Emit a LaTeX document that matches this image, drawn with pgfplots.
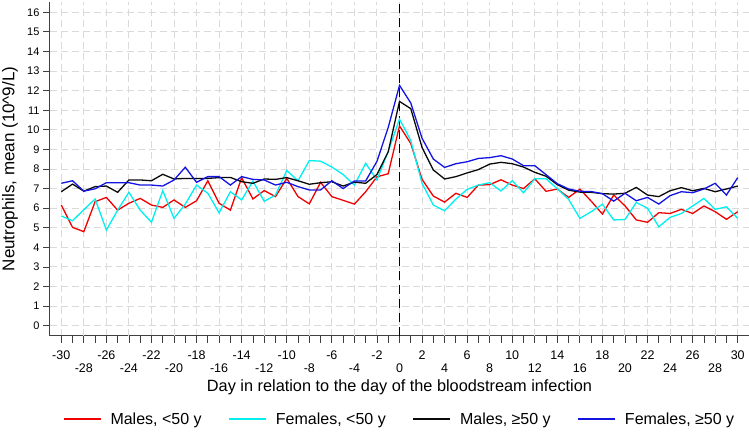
\documentclass[border=0pt]{standalone}
\usepackage{fontspec}
\setmainfont{Liberation Sans}
\usepackage{pgfplots}
\pgfplotsset{compat=1.18}
\definecolor{cRed}{RGB}{240,0,0}
\definecolor{cCyan}{RGB}{0,240,240}
\definecolor{cBlack}{RGB}{10,10,10}
\definecolor{cBlue}{RGB}{20,20,225}
\definecolor{gridc}{RGB}{218,218,218}
\begin{document}
\begin{tikzpicture}
\begin{axis}[
  scale only axis, width=699pt, height=333pt,
  xmin=-31, xmax=31, ymin=-0.5, ymax=16.5,
  axis lines*=left,
  axis line style={line width=1pt, black!75, -},
  tick align=outside, major tick length=7pt, minor tick length=7pt,
  every tick/.style={line width=0.8pt, black!75},
  xtick={-30,-26,...,30},
  xticklabels={-30,-26,-22,-18,-14,-10,-6,-2,2,6,10,14,18,22,26,30},
  extra x ticks={-28,-24,...,28},
  extra x tick labels={-28,-24,-20,-16,-12,-8,-4,0,4,8,12,16,20,24,28},
  extra x tick style={grid=major, xticklabel style={yshift=-12.5pt}},
  minor xtick={-29,-27,...,29},
  ytick={0,...,16},
  grid=major,
  major grid style={line width=1pt, gridc, dash pattern=on 7pt off 4pt},
  /pgf/number format/assume math mode=true,
  xticklabel style={font=\fontsize{12.5}{14}\selectfont, yshift=-5pt},
  yticklabel style={font=\fontsize{11}{13}\selectfont},
  xlabel={Day in relation to the day of the bloodstream infection},
  xlabel style={font=\fontsize{16.3}{18}\selectfont, at={(axis description cs:0.5,0)}, anchor=center, yshift=-51.5pt},
  ylabel={Neutrophils, mean (10\textasciicircum 9/L)},
  ylabel style={font=\fontsize{17}{19}\selectfont, at={(axis description cs:-0.0572,0.5)}, anchor=center},
  legend columns=4,
  legend style={at={(axis description cs:0,0)}, anchor=west, xshift=10pt, yshift=-83.5pt,
    draw=none, fill=none, font=\fontsize{16}{18}\selectfont,
    /tikz/every odd column/.append style={column sep=7pt},
    /tikz/every even column/.append style={column sep=25pt}},
  legend image code/.code={\draw[#1] (0pt,0pt) -- (37pt,0pt);},
]
\addplot[black, line width=1.5pt, dash pattern=on 9pt off 5pt, forget plot] coordinates {(0,-0.5) (0,16.5)};

\addplot[cRed, line width=1.3pt] coordinates {
(-30,6.16)(-29,5.02)(-28,4.80)(-27,6.33)(-26,6.55)(-25,5.90)(-24,6.25)(-23,6.50)(-22,6.16)(-21,6.04)
(-20,6.42)(-19,6.04)(-18,6.38)(-17,7.40)(-16,6.25)(-15,5.90)(-14,7.55)(-13,6.47)(-12,6.90)(-11,6.59)
(-10,7.52)(-9,6.59)(-8,6.22)(-7,7.32)(-6,6.59)(-5,6.40)(-4,6.21)(-3,6.84)(-2,7.60)(-1,7.76)
(0,10.2)(1,9.3)(2,7.47)(3,6.62)(4,6.31)(5,6.76)(6,6.55)(7,7.18)(8,7.20)(9,7.45)
(10,7.18)(11,7.00)(12,7.50)(13,6.86)(14,6.98)(15,6.55)(16,6.97)(17,6.36)(18,5.70)(19,6.67)
(20,6.12)(21,5.40)(22,5.28)(23,5.77)(24,5.73)(25,5.94)(26,5.73)(27,6.11)(28,5.82)(29,5.43)(30,5.82)};
\addlegendentry{Males, <50 y}

\addplot[cCyan, line width=1.3pt] coordinates {
(-30,5.60)(-29,5.36)(-28,5.92)(-27,6.47)(-26,4.88)(-25,5.90)(-24,6.81)(-23,5.90)(-22,5.28)(-21,6.89)
(-20,5.48)(-19,6.21)(-18,7.18)(-17,6.76)(-16,5.76)(-15,6.84)(-14,6.42)(-13,7.38)(-12,6.35)(-11,6.67)
(-10,7.92)(-9,7.40)(-8,8.43)(-7,8.40)(-6,8.10)(-5,7.72)(-4,7.18)(-3,8.29)(-2,7.44)(-1,8.9)
(0,10.55)(1,9.45)(2,7.27)(3,6.16)(4,5.87)(5,6.46)(6,6.96)(7,7.18)(8,7.30)(9,6.88)
(10,7.40)(11,6.79)(12,7.50)(13,7.50)(14,6.99)(15,6.45)(16,5.48)(17,5.82)(18,6.20)(19,5.40)
(20,5.42)(21,6.29)(22,6.00)(23,5.05)(24,5.53)(25,5.73)(26,6.11)(27,6.50)(28,5.94)(29,6.07)(30,5.48)};
\addlegendentry{Females, <50 y}

\addplot[cBlack, line width=1.3pt] coordinates {
(-30,6.84)(-29,7.23)(-28,6.87)(-27,7.10)(-26,7.13)(-25,6.81)(-24,7.44)(-23,7.44)(-22,7.40)(-21,7.73)
(-20,7.49)(-19,7.52)(-18,7.52)(-17,7.52)(-16,7.56)(-15,7.57)(-14,7.35)(-13,7.27)(-12,7.49)(-11,7.47)
(-10,7.56)(-9,7.40)(-8,7.22)(-7,7.30)(-6,7.35)(-5,7.13)(-4,7.33)(-3,7.27)(-2,7.72)(-1,8.88)
(0,11.45)(1,11.08)(2,9.10)(3,7.95)(4,7.49)(5,7.61)(6,7.80)(7,7.97)(8,8.25)(9,8.34)
(10,8.27)(11,8.10)(12,7.83)(13,7.63)(14,7.20)(15,6.92)(16,6.82)(17,6.81)(18,6.74)(19,6.72)
(20,6.76)(21,7.06)(22,6.67)(23,6.59)(24,6.89)(25,7.05)(26,6.89)(27,7.01)(28,6.84)(29,6.98)(30,7.13)};
\addlegendentry{Males, ≥50 y}

\addplot[cBlue, line width=1.3pt] coordinates {
(-30,7.27)(-29,7.40)(-28,6.87)(-27,6.99)(-26,7.30)(-25,7.30)(-24,7.30)(-23,7.18)(-22,7.18)(-21,7.13)
(-20,7.44)(-19,8.09)(-18,7.32)(-17,7.61)(-16,7.61)(-15,7.18)(-14,7.61)(-13,7.47)(-12,7.44)(-11,7.18)
(-10,7.32)(-9,7.10)(-8,6.93)(-7,6.93)(-6,7.40)(-5,7.00)(-4,7.39)(-3,7.39)(-2,8.39)(-1,10.12)
(0,12.27)(1,11.37)(2,9.57)(3,8.51)(4,8.08)(5,8.27)(6,8.37)(7,8.54)(8,8.58)(9,8.68)
(10,8.51)(11,8.17)(12,8.17)(13,7.71)(14,7.25)(15,6.98)(16,6.86)(17,6.85)(18,6.74)(19,6.36)
(20,6.76)(21,6.38)(22,6.55)(23,6.21)(24,6.64)(25,6.84)(26,6.79)(27,6.98)(28,7.27)(29,6.67)(30,7.56)};
\addlegendentry{Females, ≥50 y}

\coordinate (O) at (rel axis cs:0,0);
\end{axis}
\pgfresetboundingbox
\path[use as bounding box] (O) ++(-50pt,-95.5pt) rectangle ++(749pt,431pt);
\end{tikzpicture}
\end{document}
